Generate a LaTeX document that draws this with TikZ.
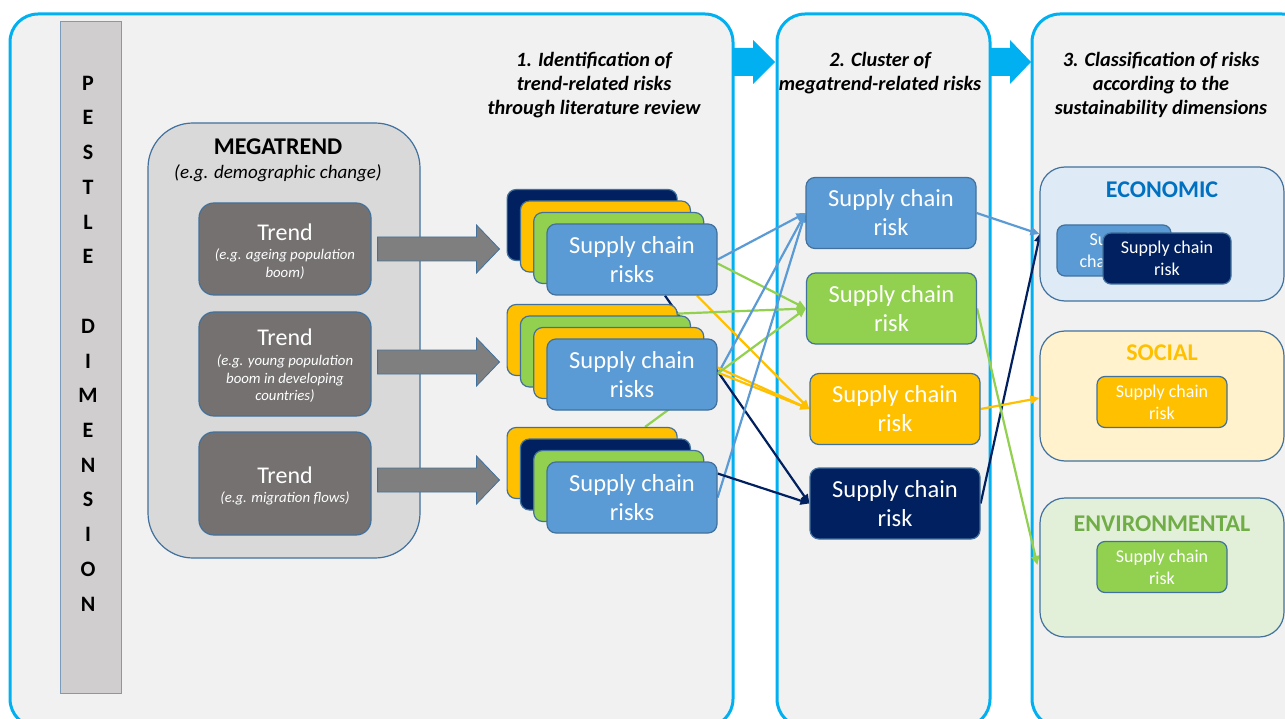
\documentclass[tikz,border=0pt]{standalone}
\usepackage{fontspec}
\setmainfont{Carlito}
\usetikzlibrary{arrows.meta,calc}
\pgfdeclarelayer{back}
\pgfdeclarelayer{links}
\pgfsetlayers{back,links,main}

\definecolor{panelblue}{HTML}{00B0F0}
\definecolor{panelfill}{HTML}{F1F1F1}
\definecolor{edge}{HTML}{41719C}
\definecolor{riskblue}{HTML}{5B9BD5}
\definecolor{riskgreen}{HTML}{92D050}
\definecolor{riskyellow}{HTML}{FFC000}
\definecolor{risknavy}{HTML}{002060}
\definecolor{trendgray}{HTML}{757171}
\definecolor{megagray}{HTML}{D9D9D9}
\definecolor{pestlegray}{HTML}{D0CECE}
\definecolor{arrowgray}{HTML}{7F7F7F}
\definecolor{ecofill}{HTML}{DEEBF7}
\definecolor{socfill}{HTML}{FFF2CC}
\definecolor{envfill}{HTML}{E2F0D9}
\definecolor{ecotext}{HTML}{0070C0}
\definecolor{envtext}{HTML}{70AD47}

\tikzset{
  panel/.style={draw=panelblue, line width=3pt, fill=panelfill, rounded corners=28pt},
  riskbox/.style={draw=edge, line width=1.2pt, rounded corners=9pt, fill=#1,
    minimum width=170pt, minimum height=71pt, inner sep=0pt, text=white,
    align=center, font=\fontsize{24.5}{29}\selectfont},
  smallrisk/.style={draw=edge, line width=1.2pt, rounded corners=8pt, fill=#1,
    minimum height=51pt, inner sep=0pt, text=white,
    align=center, font=\fontsize{18}{21.7}\selectfont},
  trendbox/.style={draw=edge, line width=1.2pt, rounded corners=15pt, fill=trendgray,
    minimum width=172pt, inner sep=0pt},
  trendtitle/.style={text=white, font=\fontsize{24}{26}\selectfont, inner sep=0pt},
  trendnote/.style={text=white, align=center, inner sep=0pt,
    font=\fontsize{14.8}{17.5}\selectfont\itshape},
  catbox/.style={draw=edge, line width=1.2pt, rounded corners=25pt, fill=#1,
    minimum width=244pt, inner sep=0pt},
  cattitle/.style={text=#1, font=\fontsize{24}{26}\selectfont\bfseries, inner sep=0pt},
  steptitle/.style={align=center, inner sep=0pt, font=\fontsize{20.3}{24}\selectfont\bfseries\itshape},
  link/.style={draw=#1, line width=2.2pt, -{Triangle[length=9pt,width=8pt]}},
}

% block arrow: style, start point, tip point, shaft half width, head half width, head length
\newcommand\blockarr[6]{%
  \path[#1] let \p1=(#2), \p2=(#3) in
    (\x1,\y1+#4) -- (\x2-#6,\y1+#4) -- (\x2-#6,\y1+#5) -- (\x2,\y1)
    -- (\x2-#6,\y1-#5) -- (\x2-#6,\y1-#4) -- (\x1,\y1-#4) -- cycle;}

\begin{document}
\begin{tikzpicture}[x=1pt,y=-1pt]
\useasboundingbox (0,0) rectangle (1285,719);

% ---------- panels and the step arrows between them ----------
\begin{pgfonlayer}{back}
  \fill[white] (0,0) rectangle (1285,719);
  \draw[panel] (10,14) rectangle (733,727);
  \draw[panel] (777,14) rectangle (990,727);
  \draw[panel] (1032,14) rectangle (1310,727);
  \coordinate (p1out) at (733,62);
  \coordinate (p2in) at (775,62);
  \coordinate (p2out) at (990,62);
  \coordinate (p3in) at (1031,62);
  \blockarr{fill=panelblue}{p1out}{p2in}{14pt}{22pt}{22pt}
  \blockarr{fill=panelblue}{p2out}{p3in}{14pt}{22pt}{21pt}
\end{pgfonlayer}

% ---------- step titles ----------
\node[steptitle] (title1) at (594,85) {1. Identification of\\trend-related risks\\through literature review};
\node[steptitle] (title2) at (880,73.5) {2. Cluster of\\megatrend-related risks};
\node[steptitle] (title3) at (1161,84.5) {3. Classification of risks\\according to the\\sustainability dimensions};

% ---------- PESTLE dimension bar ----------
\node[draw=edge!70, line width=1pt, fill=pestlegray, minimum width=61pt, minimum height=671pt, inner sep=0pt] (pestle) at (90.5,357.5) {};
\node[align=center, inner sep=0pt, font=\fontsize{22}{34.73}\selectfont\bfseries] (pestletext) at (88,343.5)
  {P\\E\\S\\T\\L\\E\\[34.73pt]D\\I\\M\\E\\N\\S\\I\\O\\N};

% ---------- megatrend and trends ----------
\node[draw=edge, line width=1.2pt, fill=megagray, rounded corners=45pt, minimum width=272pt, minimum height=435pt] (mega) at (284,340.5) {};
\node[inner sep=0pt, font=\fontsize{24}{26}\selectfont\bfseries] (megatitle) at (278,147) {MEGATREND};
\node[inner sep=0pt, font=\fontsize{19}{22}\selectfont\itshape] (meganote) at (278,173) {(e.g. demographic change)};

\node[trendbox, minimum height=92pt] (t1) at (285,249) {};
\node[trendtitle] (t1title) at ($(t1.center)+(0,-17)$) {Trend};
\node[trendnote] (t1note) at ($(t1.center)+(0,15)$) {(e.g. ageing population\\boom)};

\node[trendbox, minimum height=104pt] (t2) at (285,364) {};
\node[trendtitle] (t2title) at ($(t2.center)+(0,-27)$) {Trend};
\node[trendnote] (t2note) at ($(t2.center)+(0,15)$) {(e.g. young population\\boom in developing\\countries)};

\node[trendbox, minimum height=103pt] (t3) at (285,483.5) {};
\node[trendtitle] (t3title) at ($(t3.center)+(0,-8.5)$) {Trend};
\node[trendnote] (t3note) at ($(t3.center)+(0,14.5)$) {(e.g. migration flows)};

% ---------- stacks of supply chain risks ----------
\node[riskbox=risknavy]   (s1a) at (592.1,225) {};
\node[riskbox=riskyellow] (s1b) at (605.4,236.5) {};
\node[riskbox=riskgreen]  (s1c) at (618.7,248) {};
\node[riskbox=riskblue]   (s1)  at (632,259.5) {Supply chain\\risks};

\node[riskbox=riskyellow] (s2a) at (592.1,340) {};
\node[riskbox=riskgreen]  (s2b) at (605.4,351.5) {};
\node[riskbox=riskyellow] (s2c) at (618.7,363) {};
\node[riskbox=riskblue]   (s2)  at (632,374.5) {Supply chain\\risks};

\node[riskbox=riskyellow] (s3a) at (592.1,463) {};
\node[riskbox=risknavy]   (s3b) at (605.4,474.5) {};
\node[riskbox=riskgreen]  (s3c) at (618.7,486) {};
\node[riskbox=riskblue]   (s3)  at (632,497.5) {Supply chain\\risks};

% trend -> risks arrows
\blockarr{fill=arrowgray, draw=edge, line width=0.8pt}{$(t1.east)+(6,0)$}{$(s1a.west)+(-7,0)$}{12pt}{24pt}{23pt}
\blockarr{fill=arrowgray, draw=edge, line width=0.8pt}{$(t2.east)+(6,-2)$}{$(s2a.west)+(-7,0)$}{12pt}{24pt}{23pt}
\blockarr{fill=arrowgray, draw=edge, line width=0.8pt}{$(t3.east)+(6,-3.5)$}{$(s3a.west)+(-7,0)$}{12pt}{24pt}{23pt}

% ---------- clusters ----------
\node[riskbox=riskblue]   (c1) at (891,213) {Supply chain\\risk};
\node[riskbox=riskgreen]  (c2) at (891.5,308.5) {Supply chain\\risk};
\node[riskbox=riskyellow] (c3) at (895,409) {Supply chain\\risk};
\node[riskbox=risknavy]   (c4) at (895,503.5) {Supply chain\\risk};

% ---------- sustainability dimensions ----------
\node[catbox=ecofill, minimum height=134pt] (eco) at (1162,234) {};
\node[cattitle=ecotext] (ecotitle) at (1162,190) {ECONOMIC};
\node[smallrisk=riskblue, minimum width=114pt] (eco1) at (1114,250.5) {Supply\\chain risk};
\node[smallrisk=risknavy, minimum width=128pt] (eco2) at (1167,258.5) {Supply chain\\risk};

\node[catbox=socfill, minimum height=130pt] (soc) at (1162,396) {};
\node[cattitle=riskyellow] (soctitle) at (1162,353) {SOCIAL};
\node[smallrisk=riskyellow, minimum width=130pt] (soc1) at (1162,402) {Supply chain\\risk};

\node[catbox=envfill, minimum height=139pt] (env) at (1162,567.5) {};
\node[cattitle=envtext] (envtitle) at (1162,524) {ENVIRONMENTAL};
\node[smallrisk=riskgreen, minimum width=130pt] (env1) at (1162,567) {Supply chain\\risk};

% ---------- connectors ----------
\begin{pgfonlayer}{links}
  % from the trend-related risks to the clusters
  \draw[link=riskblue]   (s1.east) -- (c1.west);
  \draw[link=riskgreen]  ($(s1.east)+(0,4)$) -- (c2.west);
  \draw[link=riskyellow] ($(s1.south)+(65,0)$) -- (c3.west);
  \draw[link=risknavy]   ($(s1.south)+(33,0)$) -- (c4.west);

  \draw[link=riskgreen]  ($(s2a.east)+(-10,-26)$) -- (c2.west);
  \draw[link=riskblue]   (s2.east) -- (c1.west);
  \draw[link=riskyellow] ($(s2.east)+(0,-7)$) -- (c3.west);
  \draw[link=riskyellow] ($(s2.east)+(0,-2)$) -- (c3.west);

  \draw[link=riskgreen]  ($(s3a.north)+(53,0)$) -- (c2.west);
  \draw[link=riskblue]   (s3.east) -- (c1.west);
  \draw[link=risknavy]   ($(s3.east)+(0,-24)$) -- (c4.west);

  % from the clusters to the sustainability dimensions
  \draw[link=riskblue]   (c1.east) -- (eco.west);
  \draw[link=risknavy]   (c4.east) -- ($(eco.west)+(1,-1)$);
  \draw[link=riskyellow] (c3.east) -- ($(soc.west)+(0,2)$);
  \draw[link=riskgreen]  (c2.east) -- ($(env.west)+(-2,-2.5)$);
\end{pgfonlayer}
\end{tikzpicture}
\end{document}
